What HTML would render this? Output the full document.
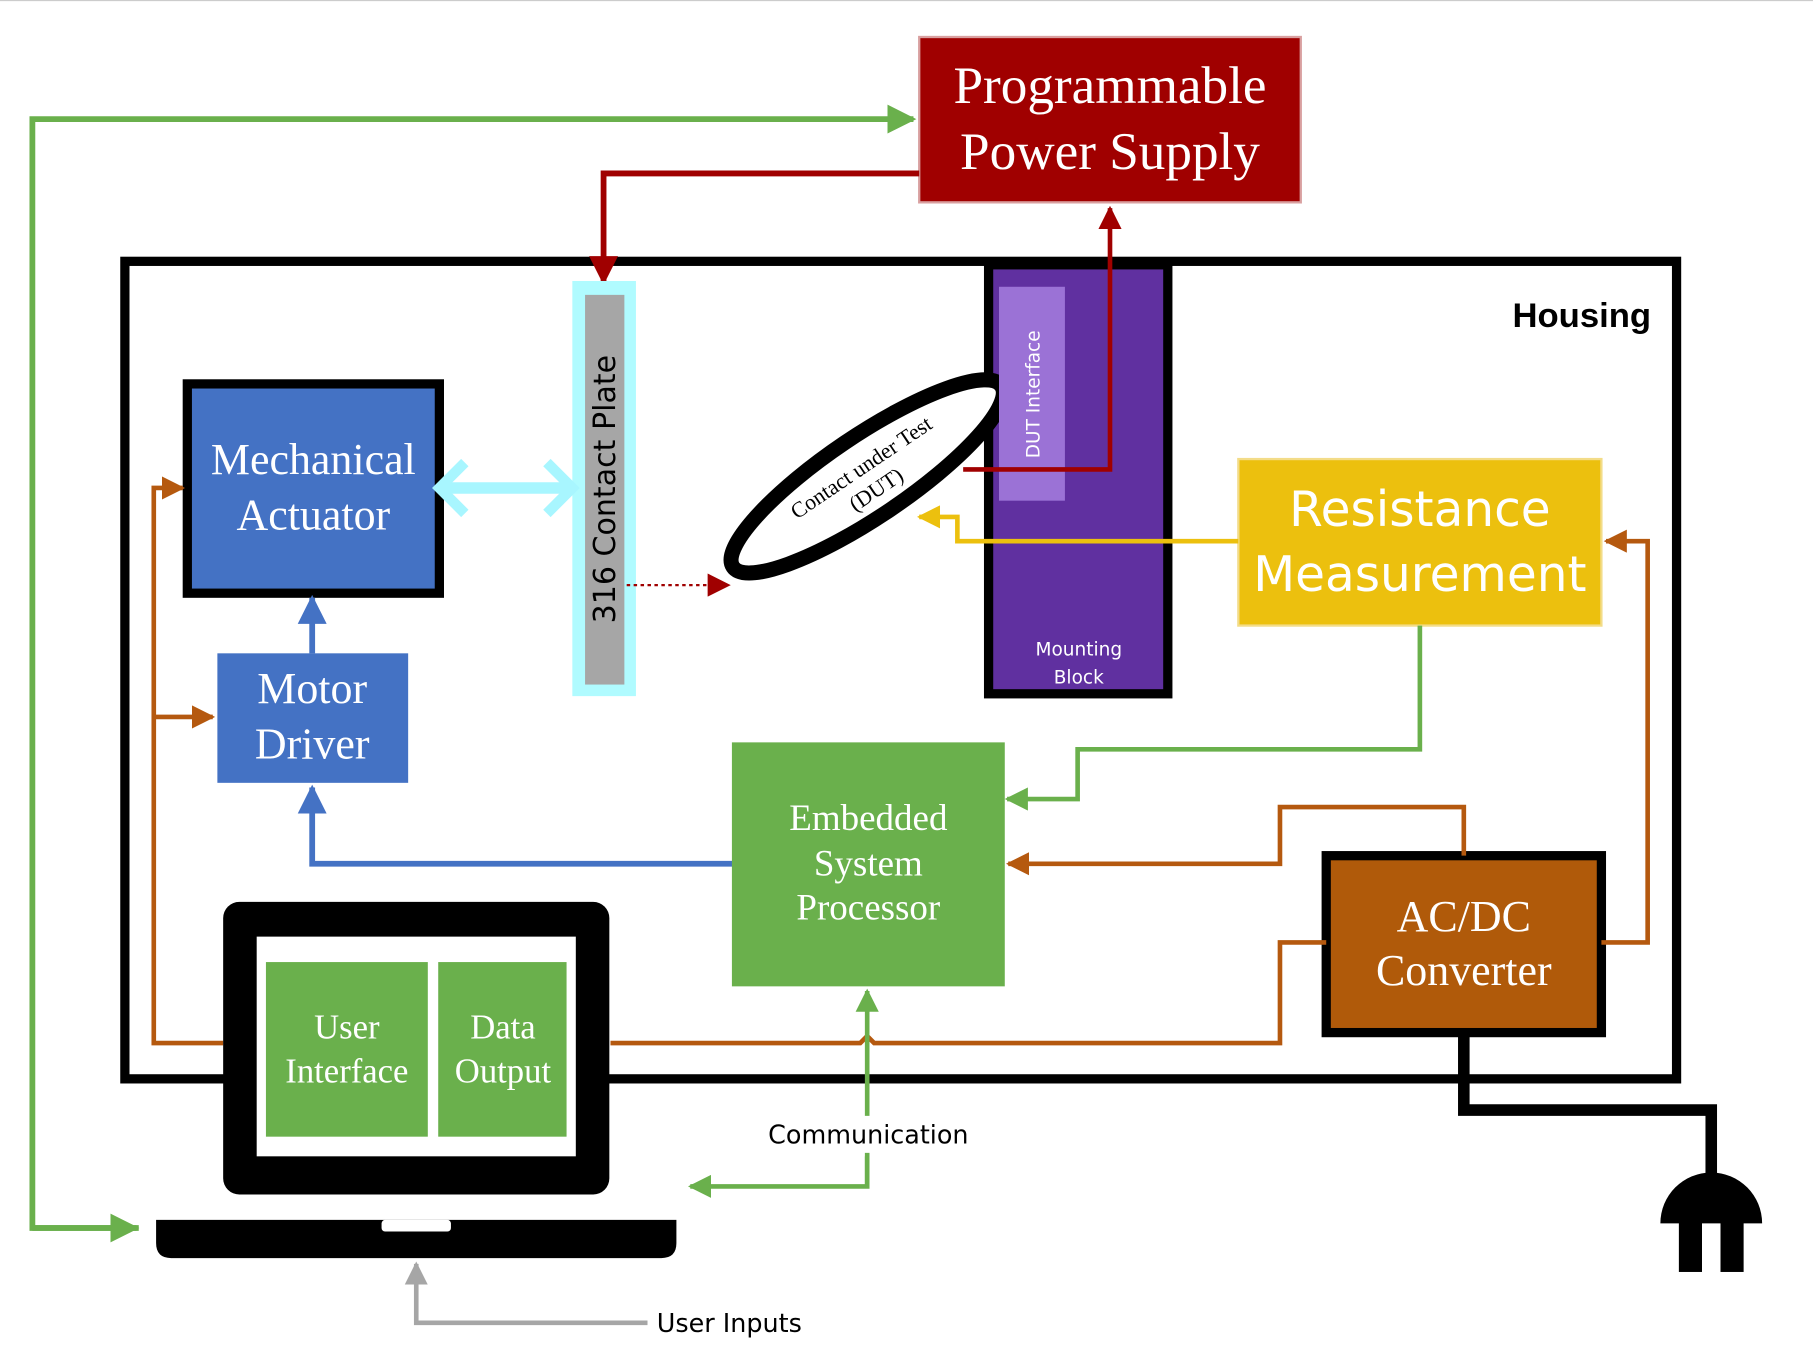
<!DOCTYPE html>
<html><head><style>html,body{margin:0;padding:0;background:#fff}svg{display:block}</style></head>
<body>
<svg width="1813" height="1361" viewBox="0 0 1568 1177" preserveAspectRatio="none" xmlns="http://www.w3.org/2000/svg">
<defs>
<marker id="ag" viewBox="0 0 10 10" refX="9" refY="5" markerWidth="5" markerHeight="5" orient="auto"><path d="M0,0L10,5L0,10z" fill="#6ab04c"/></marker>
<marker id="ar" viewBox="0 0 10 10" refX="9" refY="5" markerWidth="5" markerHeight="5" orient="auto"><path d="M0,0L10,5L0,10z" fill="#a00000"/></marker>
<marker id="ar2" viewBox="0 0 10 10" refX="9" refY="5" markerWidth="10" markerHeight="10" orient="auto"><path d="M0,0L10,5L0,10z" fill="#a00000"/></marker>
<marker id="ab" viewBox="0 0 10 10" refX="9" refY="5" markerWidth="5" markerHeight="5" orient="auto"><path d="M0,0L10,5L0,10z" fill="#4472c4"/></marker>
<marker id="ao" viewBox="0 0 10 10" refX="9" refY="5" markerWidth="5" markerHeight="5" orient="auto"><path d="M0,0L10,5L0,10z" fill="#b5590f"/></marker>
<marker id="ay" viewBox="0 0 10 10" refX="9" refY="5" markerWidth="5" markerHeight="5" orient="auto"><path d="M0,0L10,5L0,10z" fill="#ecc00e"/></marker>
<marker id="agr" viewBox="0 0 10 10" refX="9" refY="5" markerWidth="5" markerHeight="5" orient="auto"><path d="M0,0L10,5L0,10z" fill="#a6a6a6"/></marker>
</defs>
<line x1="0" y1="0.5" x2="1568" y2="0.5" stroke="#ccc"/>
<!-- housing -->
<rect x="108" y="226" width="1342" height="707" fill="none" stroke="#000" stroke-width="8"/>
<text x="1428" y="283" font-family="Liberation Sans, sans-serif" font-weight="bold" font-size="30" text-anchor="end">Housing</text>
<!-- green outer -->
<polyline points="120,1062 28,1062 28,103 790,103" fill="none" stroke="#6ab04c" stroke-width="5" marker-end="url(#ag)"/>
<line x1="28" y1="1062" x2="118" y2="1062" stroke="#6ab04c" stroke-width="5" marker-end="url(#ag)"/>
<!-- PPS -->
<rect x="795" y="32" width="330" height="143" fill="#a00000" stroke="#d9a0a0" stroke-width="2"/>
<text font-family="Liberation Serif, serif" font-size="46" fill="#fff" text-anchor="middle"><tspan x="960" y="89">Programmable</tspan><tspan x="960" y="146">Power Supply</tspan></text>
<polyline points="795,150 522,150 522,244" fill="none" stroke="#a00000" stroke-width="5" marker-end="url(#ar)"/>
<!-- contact plate -->
<rect x="495" y="243" width="55" height="359" fill="#b0fbff"/>
<rect x="506" y="255" width="34" height="337" fill="#a6a6a6"/>
<text transform="translate(532,423) rotate(-90)" font-family="DejaVu Sans, sans-serif" font-size="26" text-anchor="middle">316 Contact Plate</text>
<line x1="542" y1="506" x2="630" y2="506" stroke="#a00000" stroke-width="2" stroke-dasharray="3,3" marker-end="url(#ar2)"/>
<!-- mounting block -->
<rect x="855" y="229" width="155" height="371" fill="#6030a0" stroke="#000" stroke-width="8"/>
<g transform="translate(750,412) rotate(-34)">
<ellipse cx="0" cy="0" rx="140" ry="35" fill="#fff" stroke="#000" stroke-width="13"/>
<text font-family="Liberation Serif, serif" font-size="19" text-anchor="middle"><tspan x="0" y="-3">Contact under Test</tspan><tspan x="0" y="20">(DUT)</tspan></text>
</g>
<rect x="864" y="248" width="57" height="185" fill="#9b72d6"/>
<text transform="translate(899,341) rotate(-90)" font-family="DejaVu Sans, sans-serif" font-size="16" fill="#fff" text-anchor="middle">DUT Interface</text>
<text font-family="DejaVu Sans, sans-serif" font-size="16" fill="#fff" text-anchor="middle"><tspan x="933" y="567">Mounting</tspan><tspan x="933" y="591">Block</tspan></text>
<polyline points="833,406 960,406 960,180" fill="none" stroke="#a00000" stroke-width="4" marker-end="url(#ar)"/>
<!-- resistance -->
<rect x="1071" y="397" width="314" height="144" fill="#ecc00e" stroke="#f3dc88" stroke-width="2"/>
<text font-family="DejaVu Sans, sans-serif" font-size="42" fill="#fff" text-anchor="middle"><tspan x="1228" y="455">Resistance</tspan><tspan x="1228" y="511">Measurement</tspan></text>
<polyline points="1071,468 828,468 828,447 795,447" fill="none" stroke="#ecc00e" stroke-width="4" marker-end="url(#ay)"/>
<polyline points="1228,541 1228,648 932,648 932,691 871,691" fill="none" stroke="#6ab04c" stroke-width="4" marker-end="url(#ag)"/>
<!-- actuator -->
<rect x="162" y="332" width="218" height="181" fill="#4472c4" stroke="#000" stroke-width="8"/>
<text font-family="Liberation Serif, serif" font-size="38" fill="#fff" text-anchor="middle"><tspan x="271" y="410">Mechanical</tspan><tspan x="271" y="458">Actuator</tspan></text>
<line x1="385" y1="422" x2="490" y2="422" stroke="#a8f6ff" stroke-width="10"/>
<polyline points="402,400 380,422 402,444" fill="none" stroke="#a8f6ff" stroke-width="9"/>
<polyline points="473,400 495,422 473,444" fill="none" stroke="#a8f6ff" stroke-width="9"/>
<!-- motor driver -->
<rect x="188" y="565" width="165" height="112" fill="#4472c4"/>
<text font-family="Liberation Serif, serif" font-size="38" fill="#fff" text-anchor="middle"><tspan x="270" y="608">Motor</tspan><tspan x="270" y="656">Driver</tspan></text>
<line x1="270" y1="565" x2="270" y2="517" stroke="#4472c4" stroke-width="5" marker-end="url(#ab)"/>
<polyline points="635,747 270,747 270,681" fill="none" stroke="#4472c4" stroke-width="5" marker-end="url(#ab)"/>
<!-- ESP -->
<rect x="633" y="642" width="236" height="211" fill="#6ab04c"/>
<text font-family="Liberation Serif, serif" font-size="32" fill="#fff" text-anchor="middle"><tspan x="751" y="718">Embedded</tspan><tspan x="751" y="757">System</tspan><tspan x="751" y="795">Processor</tspan></text>
<!-- AC/DC -->
<rect x="1147" y="740" width="238" height="153" fill="#b05a0a" stroke="#000" stroke-width="8"/>
<text font-family="Liberation Serif, serif" font-size="38" fill="#fff" text-anchor="middle"><tspan x="1266" y="805">AC/DC</tspan><tspan x="1266" y="852">Converter</tspan></text>
<g fill="none" stroke="#b5590f" stroke-width="4">
<polyline points="1266,740 1266,698 1107,698 1107,747 872,747" marker-end="url(#ao)"/>
<polyline points="1385,815 1425,815 1425,468 1389,468" marker-end="url(#ao)"/>
<polyline points="1147,815 1107,815 1107,902 756,902 750,896 744,902 528,902"/>
<polyline points="193,902 133,902 133,422 158,422" marker-end="url(#ao)"/>
<polyline points="133,620 184,620" marker-end="url(#ao)"/>
</g>
<!-- cord & plug -->
<polyline points="1266,893 1266,960 1480,960 1480,1025" fill="none" stroke="#000" stroke-width="10"/>
<path d="M1436,1058 A44,44 0 0 1 1524,1058 Z" fill="#000"/>
<rect x="1452" y="1056" width="20" height="44" fill="#000"/>
<rect x="1488" y="1056" width="20" height="44" fill="#000"/>
<!-- laptop -->
<rect x="193" y="780" width="334" height="253" rx="14" fill="#000"/>
<rect x="222" y="810" width="276" height="190" fill="#fff"/>
<rect x="230" y="832" width="140" height="151" fill="#6ab04c"/>
<rect x="379" y="832" width="111" height="151" fill="#6ab04c"/>
<text font-family="Liberation Serif, serif" font-size="30" fill="#fff" text-anchor="middle"><tspan x="300" y="898">User</tspan><tspan x="300" y="936">Interface</tspan><tspan x="435" y="898">Data</tspan><tspan x="435" y="936">Output</tspan></text>
<path d="M135,1055 H585 V1075 Q585,1088 572,1088 H148 Q135,1088 135,1075 Z" fill="#000"/>
<rect x="330" y="1055" width="60" height="10" rx="3" fill="#fff"/>
<!-- communication -->
<polyline points="750,1026 750,857" fill="none" stroke="#6ab04c" stroke-width="4" marker-end="url(#ag)"/>
<polyline points="750,1000 750,1026 597,1026" fill="none" stroke="#6ab04c" stroke-width="4" marker-end="url(#ag)"/>
<rect x="655" y="965" width="192" height="32" fill="#fff"/>
<text x="751" y="989" font-family="DejaVu Sans, sans-serif" font-size="22" text-anchor="middle">Communication</text>
<polyline points="560,1144 360,1144 360,1093" fill="none" stroke="#a6a6a6" stroke-width="4" marker-end="url(#agr)"/>
<text x="568" y="1152" font-family="DejaVu Sans, sans-serif" font-size="22">User Inputs</text>
</svg>
</body></html>
